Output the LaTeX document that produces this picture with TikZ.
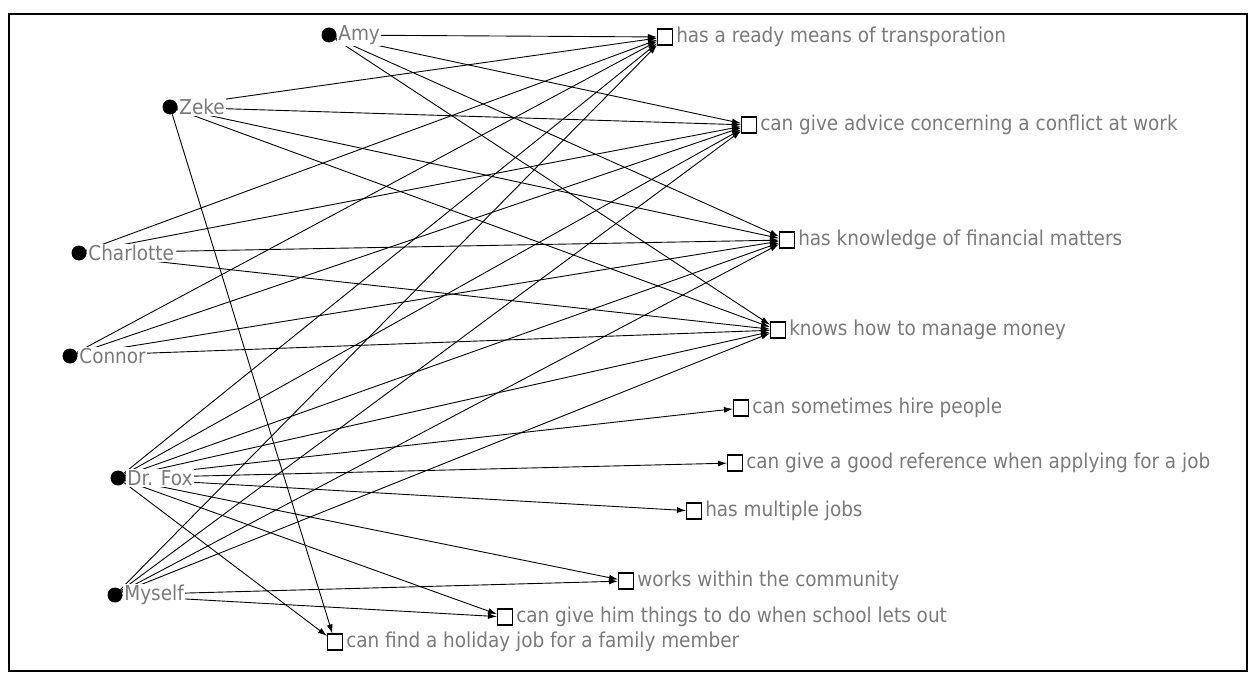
\documentclass[tikz,border=0pt]{standalone}
\usepackage{fontspec}
\setmainfont{DejaVu Sans Condensed}
\usetikzlibrary{arrows.meta}

\definecolor{labelgray}{RGB}{122,122,122}

\tikzset{
	actor/.style = {circle, fill = black, inner sep = 0pt, minimum size = 15pt},
	res/.style = {rectangle, draw = black, line width = 1.1pt, fill = white, inner sep = 0pt, minimum width = 15pt, minimum height = 16pt},
	tie/.style = {line width = 0.9pt, -{Latex[length = 9pt, width = 6pt]}},
	who/.style = {anchor = west, fill = white, text = labelgray, inner xsep = 1.5pt, inner ysep = 1pt, font = \fontsize{20.5}{22}\selectfont},
	what/.style = {anchor = west, text = labelgray, inner xsep = 3pt, font = \fontsize{20.5}{22}\selectfont}
}

\begin{document}
\begin{tikzpicture}[x=1pt, y=-1pt]

				\useasboundingbox (0,0) rectangle (1257,679);
				\draw[line width = 2pt] (9,14) rectangle (1247,671);

				% Actors


				\node[actor] (amy) at (329,35) {};
				\node[actor] (zeke) at (170,107) {};
				\node[actor] (charlotte) at (79,253) {};
				\node[actor] (connor) at (70,356) {};
				\node[actor] (fox) at (118,478) {};
				\node[actor] (myself) at (115,595) {};

				% Resources


				\node[res] (r1) at (665,37) {};
				\node[res] (r2) at (749,125) {};
				\node[res] (r3) at (787,240) {};
				\node[res] (r4) at (778,330) {};
				\node[res] (r5) at (741,408) {};
				\node[res] (r6) at (735,463) {};
				\node[res] (r7) at (694,511) {};
				\node[res] (r8) at (626,581) {};
				\node[res] (r9) at (505,617) {};
				\node[res] (r10) at (335,642) {};

				% Ties

				\foreach \i in {1,...,4}
				{
				\draw[tie] (amy) -- (r\i);
				\draw[tie] (zeke) -- (r\i);
				\draw[tie] (charlotte) -- (r\i);
				\draw[tie] (connor) -- (r\i);
				\draw[tie] (myself) -- (r\i);
				}

				\foreach \i in {1,...,10}
				\draw[tie] (fox) -- (r\i);

				\draw[tie] (zeke) -- (r10);
				\draw[tie] (myself) -- (r8);
				\draw[tie] (myself) -- (r9);

				% Labels

				\node[who] (amy-t) at (amy.east) {Amy};
				\node[who] (zeke-t) at (zeke.east) {Zeke};
				\node[who] (charlotte-t) at (charlotte.east) {Charlotte};
				\node[who] (connor-t) at (connor.east) {Connor};
				\node[who] (fox-t) at (fox.east) {Dr. Fox};
				\node[who] (myself-t) at (myself.east) {Myself};

				\node[what] (r1-t) at (r1.east) {has a ready means of transporation};
				\node[what] (r2-t) at (r2.east) {can give advice concerning a conflict at work};
				\node[what] (r3-t) at (r3.east) {has knowledge of financial matters};
				\node[what] (r4-t) at (r4.east) {knows how to manage money};
				\node[what] (r5-t) at (r5.east) {can sometimes hire people};
				\node[what] (r6-t) at (r6.east) {can give a good reference when applying for a job};
				\node[what] (r7-t) at (r7.east) {has multiple jobs};
				\node[what] (r8-t) at (r8.east) {works within the community};
				\node[what] (r9-t) at (r9.east) {can give him things to do when school lets out};
				\node[what] (r10-t) at (r10.east) {can find a holiday job for a family member};

			\end{tikzpicture}
\end{document}
